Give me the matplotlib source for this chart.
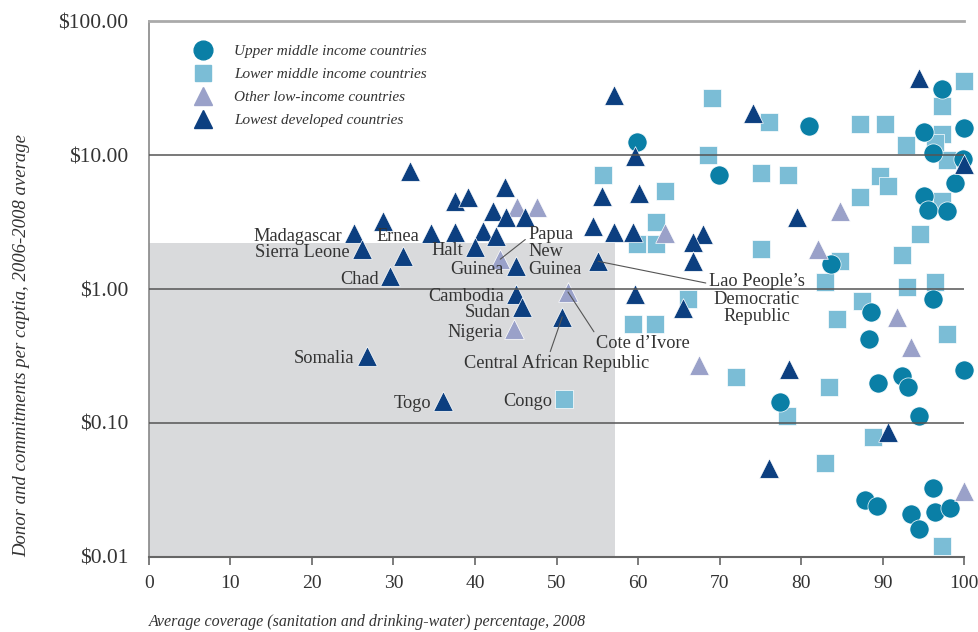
import numpy as np
import matplotlib
matplotlib.use('Agg')
import matplotlib.pyplot as plt
from matplotlib.lines import Line2D
from matplotlib.patches import Rectangle
from matplotlib.ticker import FixedLocator, FuncFormatter

plt.rcParams['font.family'] = ['Liberation Serif', 'DejaVu Serif']

# ─── Data (coverage %, aid per capita $) ─────────────────────────────────────
upper_x = [59.9, 69.9, 80.9, 97.3, 95.0, 100.0, 96.2, 99.9, 98.9, 95.1, 95.6, 97.9,
           83.7, 96.2, 88.5, 88.3, 100.0, 89.4, 92.4, 93.1, 77.4, 94.5, 96.2,
           87.8, 89.3, 93.5, 96.4, 98.2, 94.5]
upper_y = [12.6, 7.04, 16.6, 31.2, 14.9, 16.0, 10.4, 9.4, 6.14, 4.91, 3.87, 3.80,
           1.53, 0.84, 0.675, 0.425, 0.25, 0.20, 0.225, 0.187, 0.144, 0.112, 0.033,
           0.0265, 0.024, 0.0209, 0.0216, 0.0231, 0.0161]

lower_x = [100.0, 97.3, 69.0, 76.1, 87.2, 90.3, 97.3, 92.9, 96.4, 97.9, 68.6, 55.7,
           75.1, 78.4, 89.6, 90.6, 87.2, 97.3, 63.3, 62.2, 59.9, 62.2, 94.6, 75.1,
           92.4, 84.7, 82.9, 93.0, 96.4, 66.1, 87.5, 59.4, 62.1, 84.4, 97.9, 72.0,
           83.4, 78.2, 88.8, 82.9, 97.3, 50.9]
lower_y = [35.8, 23.3, 26.8, 17.7, 17.1, 17.1, 14.4, 11.8, 12.4, 9.26, 10.0, 7.04,
           7.3, 7.04, 6.92, 5.83, 4.83, 4.51, 5.35, 3.15, 2.16, 2.16, 2.56, 1.98,
           1.79, 1.61, 1.13, 1.03, 1.13, 0.84, 0.81, 0.55, 0.55, 0.60, 0.46, 0.22,
           0.187, 0.112, 0.079, 0.050, 0.0121, 0.152]

other_x = [45.2, 47.6, 43.1, 44.8, 51.4, 63.3, 84.7, 82.0, 91.8, 93.5, 67.5, 100.0]
other_y = [4.07, 4.07, 1.67, 0.50, 0.95, 2.6, 3.80, 1.98, 0.62, 0.37, 0.27, 0.031]

ldc_x = [94.5, 74.1, 57.1, 59.6, 100.0, 32.0, 43.7, 37.5, 39.1, 55.6, 60.1, 42.2,
         43.8, 46.1, 28.7, 79.5, 54.5, 25.2, 34.6, 37.5, 41.0, 42.6, 57.1, 59.4,
         68.0, 66.7, 40.0, 26.1, 31.2, 45.0, 55.1, 66.7, 29.6, 45.0, 45.8, 59.6,
         65.5, 50.7, 26.7, 36.1, 78.5, 90.6, 76.1]
ldc_y = [37.7, 20.7, 28.2, 9.9, 8.5, 7.54, 5.73, 4.51, 4.83, 4.92, 5.17, 3.80,
         3.43, 3.43, 3.2, 3.43, 2.94, 2.61, 2.61, 2.65, 2.70, 2.48, 2.65, 2.65,
         2.56, 2.24, 2.05, 1.98, 1.76, 1.48, 1.61, 1.61, 1.25, 0.92, 0.735, 0.92,
         0.72, 0.62, 0.318, 0.147, 0.254, 0.086, 0.046]

# simple labels: name, x, y (right-aligned left of marker)
simple_names = ['Madagascar', 'Ernea', 'Sierra Leone', 'Halt', 'Chad', 'Guinea',
                'Cambodia', 'Sudan', 'Nigeria', 'Somalia', 'Togo', 'Congo']
simple_x = [25.2, 34.6, 26.1, 40.0, 29.6, 45.0, 45.0, 45.8, 44.8, 26.7, 36.1, 50.9]
simple_y = [2.61, 2.61, 1.98, 2.05, 1.25, 1.48, 0.92, 0.735, 0.50, 0.318, 0.147, 0.152]

shade_x = 57.2
shade_y = 2.2

C_UPPER = '#0a7fa6'
C_LOWER = '#7bbdd6'
C_OTHER = '#9aa1c9'
C_LDC = '#0c3f80'
TXT = '#333333'

fig = plt.figure(figsize=(9.79, 6.32), dpi=100)
ax = fig.add_axes([0.152, 0.1187, 0.833, 0.848])
ax.set_yscale('log')
ax.set_xlim(0, 100)
ax.set_ylim(0.01, 100)

ax.add_patch(Rectangle((0, 0.01), shade_x, shade_y - 0.01, facecolor='#d9dadc',
                       edgecolor='none', zorder=0))

for yv in [10, 1, 0.1]:
    ax.axhline(yv, color='#555555', lw=1.3, zorder=4, alpha=0.85)

kw = dict(edgecolors='white', linewidths=0.5, zorder=3, clip_on=False)
ax.scatter(lower_x, lower_y, marker='s', s=150, c=C_LOWER, **kw)
ax.scatter(upper_x, upper_y, marker='o', s=190, c=C_UPPER, **kw)
ax.scatter(other_x, other_y, marker='^', s=200, c=C_OTHER, **kw)
ax.scatter(ldc_x, ldc_y, marker='^', s=200, c=C_LDC, **kw)

# ─── Labels ──────────────────────────────────────────────────────────────────
lab_fs = 13.2
dy_special = {'Cambodia': -5.0, 'Sudan': -7.0}
for name, x, y in zip(simple_names, simple_x, simple_y):
    dy = dy_special.get(name, -5.5)
    ax.annotate(name, xy=(x, y), xytext=(-8.5, dy), textcoords='offset points',
                ha='right', va='baseline', fontsize=lab_fs, color=TXT, zorder=5)

line_kw = dict(arrowstyle='-', color='#555555', lw=0.8, shrinkA=0, shrinkB=0)
ax.annotate('Papua\nNew\nGuinea', xy=(43.1, 1.67), xytext=(20, 24),
            textcoords='offset points', ha='left', va='top', fontsize=lab_fs,
            color=TXT, linespacing=1.05,
            arrowprops=dict(relpos=(0, 0.78), **line_kw), zorder=5)
ax.annotate("Lao People\u2019s\nDemocratic\nRepublic", xy=(55.1, 1.61),
            xytext=(114, -8.5), textcoords='offset points', ha='center', va='top',
            fontsize=lab_fs, color=TXT, linespacing=1.05,
            arrowprops=dict(relpos=(0, 0.8), **line_kw), zorder=5)
ax.annotate("Cote d\u2019Ivore", xy=(51.4, 0.95), xytext=(20, -40),
            textcoords='offset points', ha='left', va='baseline', fontsize=lab_fs,
            color=TXT, arrowprops=dict(relpos=(0, 1), **line_kw), zorder=5)
ax.annotate('Central African Republic', xy=(50.7, 0.62), xytext=(-4, -37),
            textcoords='offset points', ha='center', va='baseline', fontsize=lab_fs,
            color=TXT, arrowprops=dict(relpos=(0.46, 1), **line_kw), zorder=5)

# ─── Axes styling ────────────────────────────────────────────────────────────
ax.spines['right'].set_visible(False)
ax.spines['top'].set_color('#aaaaaa')
ax.spines['top'].set_linewidth(2)
ax.spines['left'].set_color('#888888')
ax.spines['left'].set_linewidth(1.2)
ax.spines['bottom'].set_color('#666666')
ax.spines['bottom'].set_linewidth(1.5)

ax.set_xticks(np.arange(0, 101, 10))
ax.tick_params(axis='x', direction='out', length=6, width=1.2, color='#666666',
               labelsize=14, labelcolor=TXT, pad=7)
ax.yaxis.set_major_locator(FixedLocator([0.01, 0.1, 1, 10, 100]))
ax.yaxis.set_minor_locator(FixedLocator([]))
ax.yaxis.set_major_formatter(FuncFormatter(lambda v, p: f'${v:.2f}'))
ax.tick_params(axis='y', length=0, labelsize=15.5, labelcolor=TXT, pad=15)

ax.set_xlabel('Average coverage (sanitation and drinking-water) percentage, 2008',
              fontsize=11.5, style='italic', color=TXT, loc='left', labelpad=16)
ax.set_ylabel('Donor and commitments per captia, 2006-2008 average',
              fontsize=13.5, style='italic', color=TXT, loc='bottom', labelpad=20)

handles = [
    Line2D([0], [0], marker='o', ls='none', color=C_UPPER, markersize=13.5),
    Line2D([0], [0], marker='s', ls='none', color=C_LOWER, markersize=12),
    Line2D([0], [0], marker='^', ls='none', color=C_OTHER, markersize=13.5),
    Line2D([0], [0], marker='^', ls='none', color=C_LDC, markersize=13.5),
]
labels = ['Upper middle income countries', 'Lower middle income countries',
          'Other low-income countries', 'Lowest developed countries']
ax.legend(handles, labels, loc='upper left', bbox_to_anchor=(0.1875, 0.942),
          bbox_transform=fig.transFigure, frameon=False, borderpad=0,
          handlelength=1.5, handletextpad=1.3, labelspacing=0.62,
          prop={'family': 'Liberation Serif', 'style': 'italic', 'size': 11},
          labelcolor=TXT)

fig.savefig('out.png', dpi=100)
